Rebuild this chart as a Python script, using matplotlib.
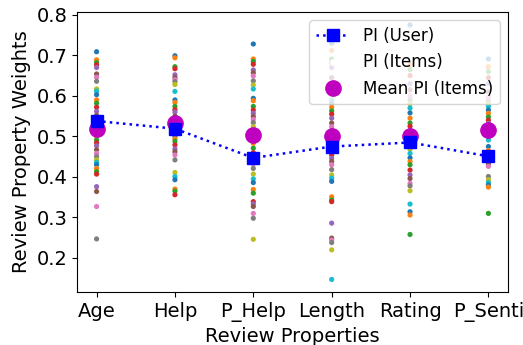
import matplotlib
matplotlib.use("Agg")
import matplotlib.pyplot as plt
import numpy as np

properties = ["Age", "Help", "P_Help", "Length", "Rating", "P_Senti"]

pi_user = [0.538, 0.519, 0.447, 0.475, 0.485, 0.451]
mean_pi_items = [0.519, 0.533, 0.504, 0.500, 0.500, 0.516]

items_age = [0.709, 0.689, 0.682, 0.677, 0.670, 0.654, 0.646, 0.636, 0.617, 0.612,
             0.603, 0.590, 0.582, 0.572, 0.562, 0.552, 0.545, 0.538, 0.530, 0.520,
             0.510, 0.500, 0.491, 0.484, 0.477, 0.467, 0.458, 0.450, 0.442, 0.436,
             0.430, 0.421, 0.413, 0.407, 0.376, 0.364, 0.327, 0.247]
items_help = [0.699, 0.694, 0.672, 0.667, 0.652, 0.645, 0.640, 0.635, 0.628, 0.611,
              0.590, 0.584, 0.574, 0.566, 0.560, 0.550, 0.540, 0.530, 0.520, 0.510,
              0.500, 0.494, 0.488, 0.479, 0.469, 0.462, 0.454, 0.442, 0.411, 0.401,
              0.393, 0.370, 0.365, 0.356]
items_phelp = [0.728, 0.691, 0.685, 0.678, 0.664, 0.657, 0.649, 0.637, 0.627, 0.617,
               0.594, 0.588, 0.574, 0.565, 0.557, 0.549, 0.542, 0.534, 0.524, 0.512,
               0.495, 0.483, 0.471, 0.460, 0.450, 0.440, 0.432, 0.421, 0.407, 0.395,
               0.386, 0.369, 0.360, 0.339, 0.333, 0.327, 0.310, 0.298, 0.246]
items_length = [0.730, 0.712, 0.691, 0.682, 0.670, 0.645, 0.630, 0.615, 0.600, 0.590,
                0.582, 0.572, 0.563, 0.555, 0.545, 0.533, 0.524, 0.515, 0.505, 0.490,
                0.480, 0.470, 0.462, 0.454, 0.446, 0.438, 0.430, 0.418, 0.405, 0.397,
                0.389, 0.351, 0.343, 0.339, 0.286, 0.249, 0.244, 0.238, 0.220, 0.147]
items_rating = [0.775, 0.677, 0.665, 0.650, 0.630, 0.615, 0.600, 0.590, 0.580, 0.570,
                0.558, 0.545, 0.533, 0.525, 0.515, 0.505, 0.495, 0.478, 0.468, 0.458,
                0.447, 0.438, 0.430, 0.417, 0.405, 0.396, 0.384, 0.378, 0.366, 0.333,
                0.314, 0.306, 0.258]
items_psenti = [0.691, 0.672, 0.660, 0.645, 0.630, 0.610, 0.596, 0.586, 0.580, 0.574,
                0.565, 0.557, 0.548, 0.540, 0.532, 0.524, 0.515, 0.505, 0.498, 0.491,
                0.475, 0.465, 0.458, 0.450, 0.440, 0.432, 0.426, 0.401, 0.393, 0.386,
                0.380, 0.375, 0.310]

items_all = [items_age, items_help, items_phelp, items_length, items_rating, items_psenti]

plt.rcParams['font.family'] = ['DejaVu Sans']
fig = plt.figure(figsize=(5.23, 3.45), dpi=100)
ax = fig.add_axes([0.1472, 0.1536, 0.8241, 0.8116])

x = np.arange(len(properties))
tab10 = plt.get_cmap('tab10').colors

for j, vals in enumerate(items_all):
    cols = [tab10[k % 10] for k in range(len(vals))]
    ax.scatter(np.full(len(vals), x[j]), vals, s=14, c=cols, zorder=2, linewidths=0)

l1, = ax.plot(x, pi_user, linestyle=':', color='blue', marker='s', markersize=8,
              linewidth=1.8, zorder=5, label='PI (User)')
l2, = ax.plot([], [], linestyle='None', marker='o', markersize=4, color='white',
              label='PI (Items)')
l3, = ax.plot(x, mean_pi_items, linestyle='None', marker='o', color='m', markersize=11,
              zorder=4, label='Mean PI (Items)')

ax.set_xticks(x)
ax.set_xticklabels(properties, fontsize=14)
ax.tick_params(axis='y', labelsize=14)
ax.set_xlabel('Review Properties', fontsize=14)
ax.set_ylabel('Review Property Weights', fontsize=14)
ax.set_xlim(-0.25, 5.25)
ax.set_ylim(0.116, 0.807)
ax.set_yticks([0.2, 0.3, 0.4, 0.5, 0.6, 0.7, 0.8])
ax.legend(handles=[l1, l2, l3], loc='upper right', fontsize=12)

fig.savefig('out.png', dpi=100)
